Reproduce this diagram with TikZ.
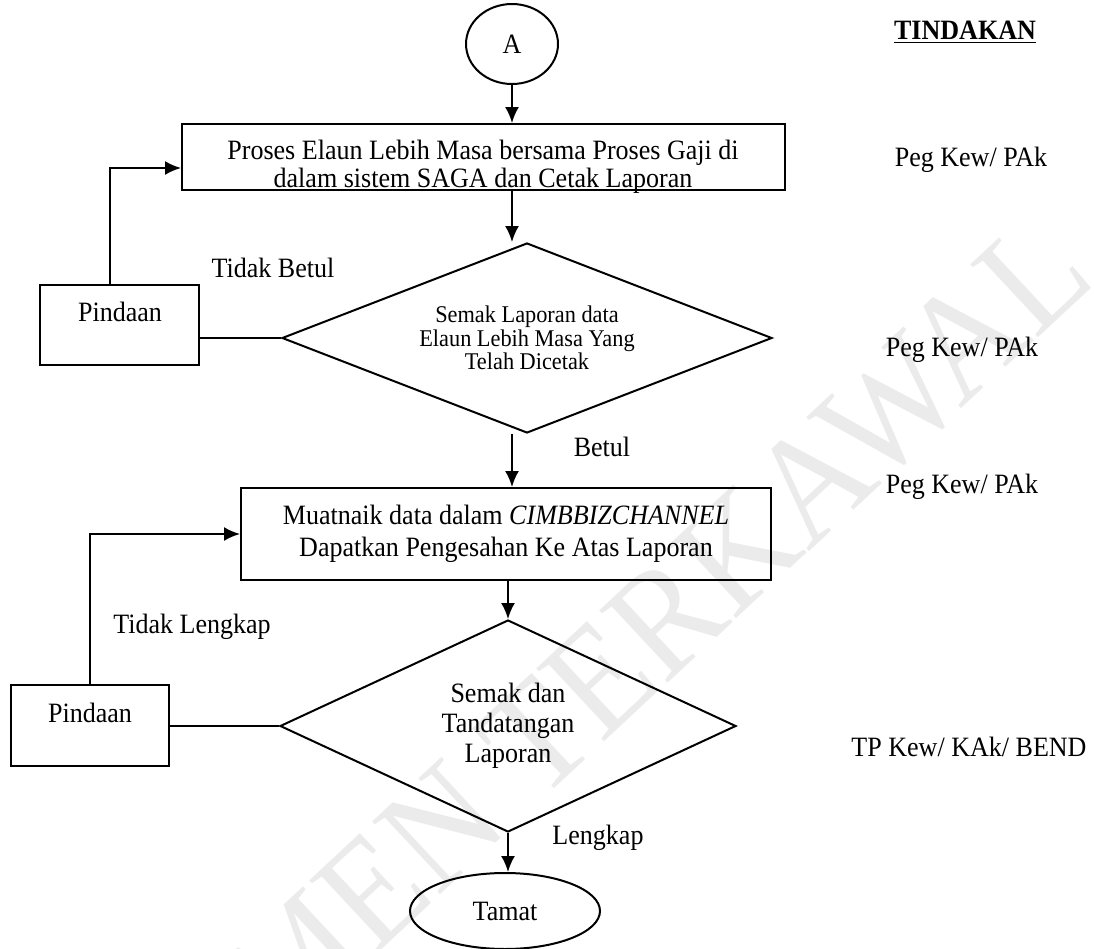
\documentclass[tikz,border=0pt]{standalone}
\usepackage{fontspec}
\setmainfont{Liberation Serif}[FakeStretch=0.93]
\usetikzlibrary{shapes.geometric,arrows.meta}
\begin{document}
\begin{tikzpicture}[x=0.5pt,y=-0.5pt]
            \tikzstyle{kotak}=[rectangle,draw,line width=1pt,align=center,inner sep=0pt,font=\fontsize{14}{14}\selectfont]
            \tikzstyle{keputusan}=[diamond,draw,line width=1pt,align=center,inner sep=0pt]
            \tikzstyle{bujur}=[ellipse,draw,line width=1pt,inner sep=0pt,font=\fontsize{14}{14}\selectfont]
            \tikzstyle{panah}=[line width=1pt,-{Latex[length=8pt,width=7pt]}]
            \tikzstyle{garis}=[line width=1pt]
            \tikzstyle{teks}=[font=\fontsize{14}{14}\selectfont,inner sep=0pt,align=center]
            \useasboundingbox (0,0) rectangle (1094,949);
            \node[rotate=43,text=black!8,font=\fontsize{76}{76}\selectfont] (wm) at (508,765) {DOKUMEN TERKAWAL};
            \node[bujur,minimum width=46pt,minimum height=40pt] (A) at (512,44) {A};
            \node[kotak,minimum width=301.5pt,minimum height=33pt] (proses) at (483.5,157) {};
            \node[teks] (proses-t) at (483,167) {Proses Elaun Lebih Masa bersama Proses Gaji di\\dalam sistem SAGA dan Cetak Laporan};
            \node[keputusan,aspect=2.58,minimum width=245pt,minimum height=95pt,font=\fontsize{12}{11.75}\selectfont] (semak) at (527,338) {Semak Laporan data\\Elaun Lebih Masa Yang\\Telah Dicetak};
            \node[kotak,minimum width=79.5pt,minimum height=40pt] (pinda1) at (119.5,325) {};
            \node[teks] (pinda1-t) at (120,312) {Pindaan};
            \node[kotak,minimum width=265pt,minimum height=46pt,font=\fontsize{14}{16}\selectfont] (muat) at (506,534) {Muatnaik data dalam \textit{CIMBBIZCHANNEL}\\Dapatkan Pengesahan Ke Atas Laporan};
            \node[keputusan,aspect=2.15,minimum width=228pt,minimum height=106pt,font=\fontsize{14}{15}\selectfont] (tanda) at (508,726) {Semak dan\\Tandatangan\\Laporan};
            \node[kotak,minimum width=79pt,minimum height=40.5pt] (pinda2) at (90,725) {};
            \node[teks] (pinda2-t) at (90,713) {Pindaan};
            \node[bujur,minimum width=95pt,minimum height=38pt] (tamat) at (505,911) {Tamat};
            \node[teks] (tb) at (273,268) {Tidak Betul};
            \node[teks] (betul) at (602,447) {Betul};
            \node[teks] (tl) at (192,627) {Tidak Lengkap};
            \node[teks] (lengkap) at (598,838) {Lengkap};
            \node[teks] (tindakan) at (965,32) {\textbf{\underline{TINDAKAN}}};
            \node[teks] (t1) at (971,160) {Peg Kew/ PAk};
            \node[teks] (t2) at (962,350) {Peg Kew/ PAk};
            \node[teks] (t3) at (962,487) {Peg Kew/ PAk};
            \node[teks] (t4) at (969,747) {TP Kew/ KAk/ BEND};
            \coordinate (k1) at (110,168);
            \draw[panah] (A) -- (proses.north -| A);
            \draw[panah] (proses.south -| A) -- (semak.north -| A);
            \draw[panah] (semak.south -| A) -- (muat.north -| A);
            \draw[panah] (muat.south -| tanda) -- (tanda.north);
            \draw[panah] (tanda.south) -- (tamat.north -| tanda);
            \draw[garis] (semak.west) -- (semak.west -| pinda1.east);
            \draw[panah] (pinda1.north -| k1) -- (k1) -- (k1 -| proses.west);
            \draw[garis] (tanda.west) -- (tanda.west -| pinda2.east);
            \draw[panah] (pinda2.north) |- (muat.west);
\end{tikzpicture}
\end{document}
